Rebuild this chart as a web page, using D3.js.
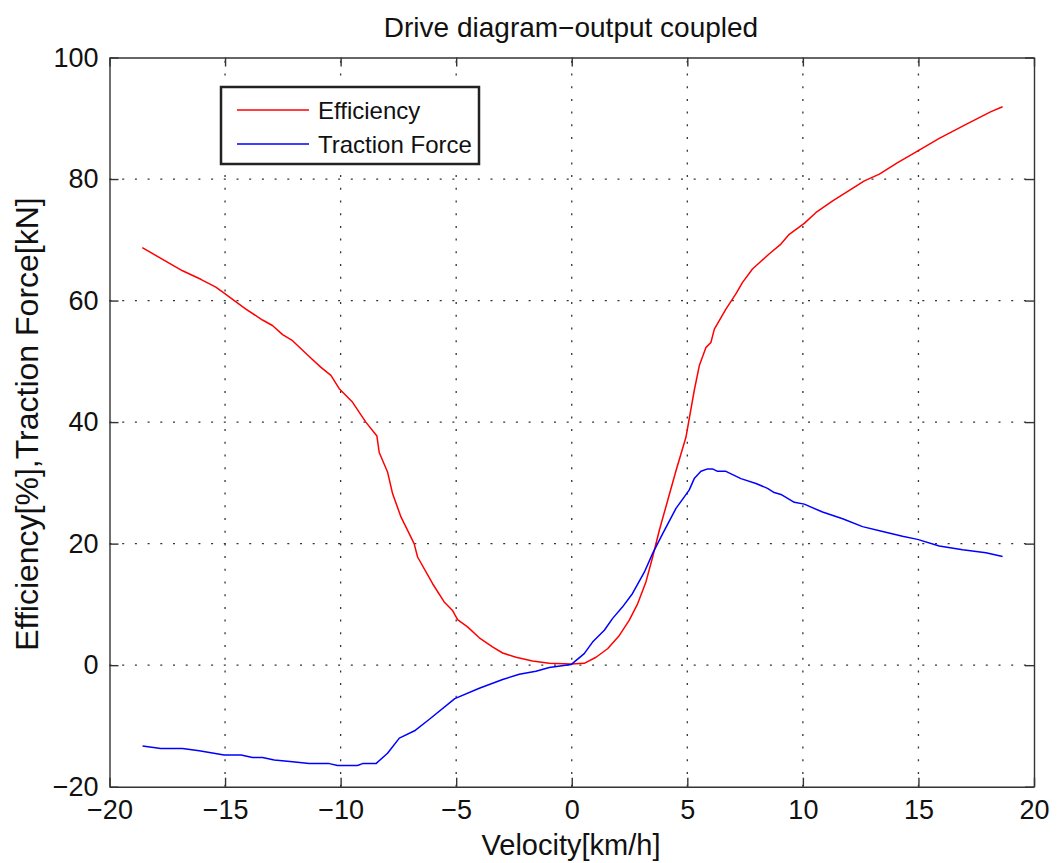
<!DOCTYPE html>
<html><head><meta charset="utf-8">
<script src="https://cdn.jsdelivr.net/npm/d3@7"></script>
<style>
body{margin:0;background:#fff;}
text{font-family:"Liberation Sans",Arial,sans-serif;fill:#111;}
</style></head>
<body><svg id="c" width="1062" height="863"></svg>
<script>
const titleText = "Drive diagram\u2212output coupled";
const xLabel = "Velocity[km/h]";
const yLabel = "Efficiency[%],Traction Force[kN]";
const xTicks = [-20,-15,-10,-5,0,5,10,15,20];
const yTicks = [-20,0,20,40,60,80,100];
const seriesNames = ["Efficiency","Traction Force"];
const seriesColors = ["#ff0000","#0000ff"];

const effV = [-18.58,-16.84,-16.05,-15.4,-15.07,-14.1,-13.38,-12.95,-12.51,-12.08,-11.36,-10.85,-10.42,-10.06,-9.49,-8.91,-8.43,-8.33,-7.97,-7.75,-7.39,-6.82,-6.67,-6.02,-5.52,-5.16,-4.94,-4.51,-4.0,-3.43,-2.99,-2.41,-1.7,-0.97,-0.03,0.54,1.05,1.55,2.06,2.49,2.85,3.21,3.5,3.79,4.15,4.51,4.94,5.3,5.52,5.81,6.02,6.17,6.67,7.1,7.39,7.82,8.55,9.05,9.41,10.06,10.57,11.29,12.66,13.31,14.1,14.96,15.9,17.06,18.14,18.64];
const effY = [68.7,64.9,63.5,62.2,61.3,58.6,56.8,55.9,54.4,53.4,50.8,49.0,47.7,45.5,43.3,40.0,37.7,35.0,31.8,28.2,24.4,20.0,17.8,13.4,10.4,9.0,7.5,6.3,4.5,3.0,2.0,1.3,0.7,0.3,0.2,0.3,1.3,2.7,4.9,7.4,10.1,13.7,17.8,22.2,27.1,32.0,37.5,45.2,49.3,52.3,53.1,55.3,58.6,61.1,63.0,65.2,67.7,69.3,70.9,72.7,74.5,76.4,79.7,80.8,82.7,84.6,86.7,89.0,91.1,91.9];

const tfV = [-18.57,-17.78,-16.84,-16.12,-15.04,-14.31,-13.81,-13.38,-12.87,-12.08,-11.36,-10.49,-10.13,-9.27,-9.05,-8.47,-7.97,-7.46,-6.8,-6.16,-5.06,-4.0,-2.99,-2.27,-1.55,-0.97,-0.03,0.54,0.9,1.41,1.77,2.2,2.63,3.14,3.5,3.93,4.51,5.08,5.3,5.59,5.88,6.09,6.31,6.67,7.32,7.97,8.47,8.76,9.05,9.63,10.06,10.85,11.72,12.58,13.45,14.31,14.96,15.9,16.91,17.92,18.64];
const tfY = [-13.3,-13.7,-13.7,-14.1,-14.8,-14.8,-15.2,-15.2,-15.6,-15.9,-16.2,-16.2,-16.5,-16.5,-16.2,-16.2,-14.5,-12.0,-10.8,-8.9,-5.5,-3.8,-2.35,-1.5,-1.0,-0.4,0.1,1.9,3.8,5.75,7.7,9.6,11.8,15.3,18.4,21.6,25.8,28.8,30.7,31.9,32.3,32.3,31.9,31.9,30.7,29.9,29.1,28.4,28.1,26.8,26.5,25.2,24.1,22.8,22.0,21.2,20.7,19.6,19.0,18.5,17.9];

const svg = d3.select("#c");
const L=109.5, R=1034, T=57.5, B=786.7;
const x = d3.scaleLinear().domain([-20,20]).range([L,R]);
const y = d3.scaleLinear().domain([-20,100]).range([B,T]);
const ax = "#333";

// grid
const g = svg.append("g");
g.selectAll(".gx").data(xTicks.slice(1,-1)).enter().append("line")
 .attr("x1",d=>x(d)).attr("x2",d=>x(d)).attr("y1",B).attr("y2",T)
 .attr("stroke",ax).attr("stroke-width",1.3).attr("stroke-dasharray","2,10.7");
g.selectAll(".gy").data(yTicks.slice(1,-1)).enter().append("line")
 .attr("y1",d=>y(d)).attr("y2",d=>y(d)).attr("x1",L).attr("x2",R)
 .attr("stroke",ax).attr("stroke-width",1.3).attr("stroke-dasharray","2,10.7");

// axes
const tl = 9;
const xb = svg.append("g").attr("transform",`translate(0,${B})`)
 .call(d3.axisBottom(x).tickValues(xTicks).tickSizeInner(-tl).tickSizeOuter(0).tickPadding(13));
const xt = svg.append("g").attr("transform",`translate(0,${T})`)
 .call(d3.axisTop(x).tickValues(xTicks).tickSizeInner(-tl).tickSizeOuter(0).tickFormat(""));
const yl = svg.append("g").attr("transform",`translate(${L},0)`)
 .call(d3.axisLeft(y).tickValues(yTicks).tickSizeInner(-tl).tickSizeOuter(0).tickPadding(11));
const yr = svg.append("g").attr("transform",`translate(${R},0)`)
 .call(d3.axisRight(y).tickValues(yTicks).tickSizeInner(-tl).tickSizeOuter(0).tickFormat(""));
[xb,xt,yl,yr].forEach(a=>{
  a.selectAll("path").attr("stroke",ax).attr("stroke-width",1.4);
  a.selectAll("line").attr("stroke",ax).attr("stroke-width",1.4);
  a.selectAll("text").attr("font-size",27).attr("font-family","Liberation Sans, Arial, sans-serif").attr("fill","#111");
});

// lines
const line = d3.line().x(d=>x(d[0])).y(d=>y(d[1]));
const effData = effV.map((v,i)=>[v,effY[i]]);
const tfData = tfV.map((v,i)=>[v,tfY[i]]);
svg.append("path").datum(effData).attr("d",line).attr("fill","none")
 .attr("stroke",seriesColors[0]).attr("stroke-width",1.5).attr("stroke-linejoin","round");
svg.append("path").datum(tfData).attr("d",line).attr("fill","none")
 .attr("stroke",seriesColors[1]).attr("stroke-width",1.5).attr("stroke-linejoin","round");

// legend
const lg = svg.append("g");
lg.append("rect").attr("x",221).attr("y",87).attr("width",258).attr("height",77)
 .attr("fill","#fff").attr("stroke","#222").attr("stroke-width",2.5);
seriesNames.forEach((n,i)=>{
  const yy = 110 + i*34;
  lg.append("line").attr("x1",237).attr("x2",309).attr("y1",yy).attr("y2",yy)
   .attr("stroke",seriesColors[i]).attr("stroke-width",1.5);
  lg.append("text").attr("x",318).attr("y",yy).attr("dominant-baseline","central")
   .attr("font-size",24).text(n);
});

// titles
svg.append("text").attr("x",571).attr("y",27).attr("text-anchor","middle")
 .attr("dominant-baseline","central").attr("font-size",28).text(titleText);
svg.append("text").attr("x",571).attr("y",845).attr("text-anchor","middle")
 .attr("dominant-baseline","central").attr("font-size",29).text(xLabel);
svg.append("text").attr("transform","translate(27,424) rotate(-90)").attr("text-anchor","middle")
 .attr("dominant-baseline","central").attr("font-size",32).text(yLabel);
</script></body></html>
